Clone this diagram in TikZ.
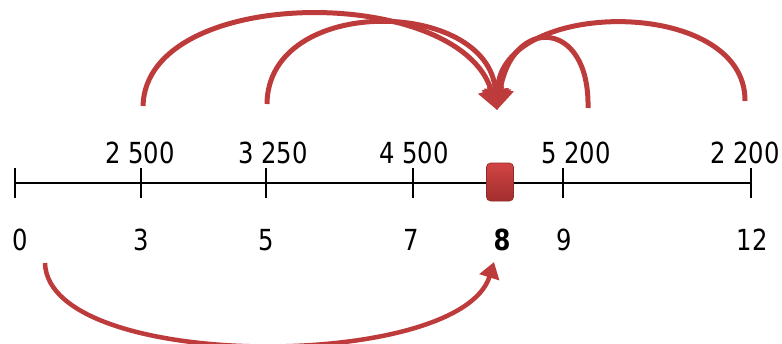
\documentclass[tikz,border=0pt]{standalone}
\usepackage{fontspec}
\setmainfont{DejaVu Sans Condensed}[FakeStretch=0.93]
\usetikzlibrary{arrows.meta}
\definecolor{arcred}{HTML}{BE3B3B}
\definecolor{boxtop}{HTML}{D24444}
\definecolor{boxbot}{HTML}{A22E2E}
\tikzset{
  axis/.style={line width=1.3pt, black},
  tickmark/.style={line width=1.3pt, black},
  lab/.style={font=\fontsize{29}{32}\selectfont, inner sep=0pt},
  jump/.style={line width=5pt, arcred, -{Triangle[width=26pt,length=21pt]}},
  jumpb/.style={line width=4.5pt, arcred, -{Triangle[width=20pt,length=16pt]}},
}
\begin{document}
\begin{tikzpicture}[x=1pt,y=-1pt]
\useasboundingbox (0,0) rectangle (782,343);
% axis
\coordinate (L) at (15,183);
\coordinate (R) at (751,183);
\draw[axis] (L) -- (R);
\foreach \x/\n in {15/t0,141/t3,266/t5,413/t7,563/t9,751/t12}{
  \coordinate (\n) at (\x,183);
  \draw[tickmark] (\x,168) -- (\x,198);
}
% marker
\node[draw=boxbot!90!black, line width=0.6pt, rounded corners=4pt, minimum width=27pt, minimum height=38pt,
      top color=boxtop, bottom color=boxbot, inner sep=0pt] (mk) at (500,182) {};
% top labels
\node[lab] (u1) at (140,153) {2 500};
\node[lab] (u2) at (273,153) {3 250};
\node[lab] (u3) at (414,153) {4 500};
\node[lab] (u4) at (576,153) {5 200};
\node[lab] (u5) at (745,153) {2 200};
% bottom labels
\node[lab] (b0) at (20,240) {0};
\node[lab] (b3) at (141,240) {3};
\node[lab] (b5) at (266,240) {5};
\node[lab] (b7) at (411,240) {7};
\node[lab] (b8) at (502,240) {\bfseries 8};
\node[lab] (b9) at (564,240) {9};
\node[lab] (b12) at (752,240) {12};
% arc end points
\coordinate (s1) at (143,106);
\coordinate (s2) at (267,104);
\coordinate (s3) at (588,108);
\coordinate (s4) at (745,101);
\coordinate (tip) at (497,110);
\coordinate (sb) at (45,263);
\coordinate (tb) at (494,262);
% arcs
\draw[jump] (s1) .. controls (146,-16) and (460,-16) .. (tip);
\draw[jump] (s2) .. controls (268,-6) and (488,-2) .. (tip);
\draw[jump] (s3) .. controls (590,18) and (512,16) .. (tip);
\draw[jump] (s4) .. controls (746,-4) and (500,-2) .. (tip);
\draw[jumpb] (sb) .. controls (48,372) and (460,372) .. (tb);
\end{tikzpicture}
\end{document}
